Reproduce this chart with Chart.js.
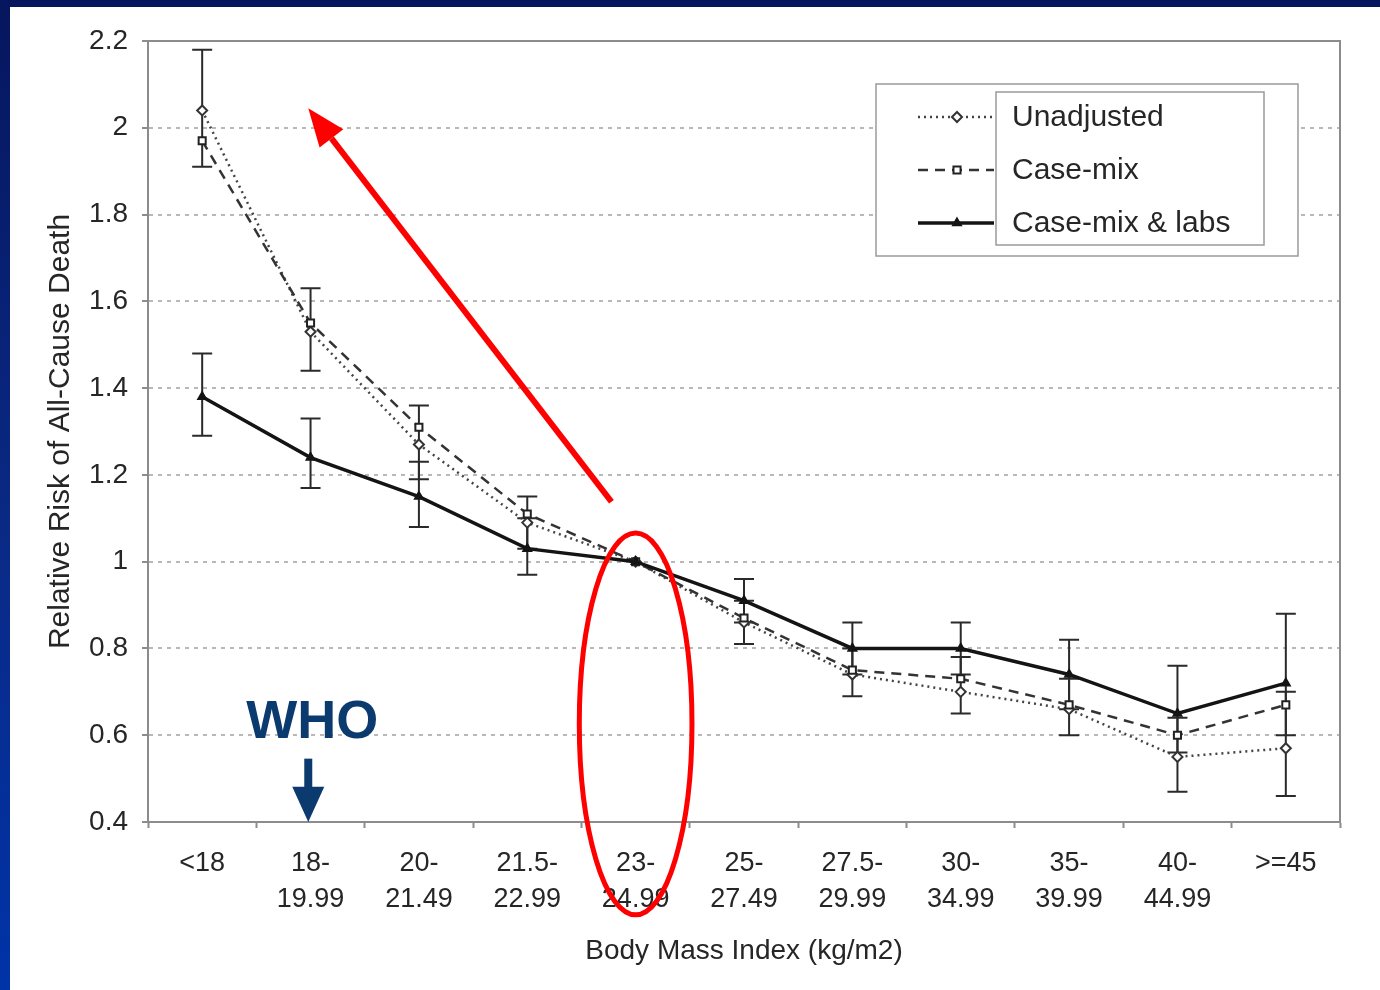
<!DOCTYPE html>
<html>
<head>
<meta charset="utf-8">
<script src="https://cdn.jsdelivr.net/npm/chart.js@4.4.0/dist/chart.umd.min.js"></script>
<style>
  html, body { margin: 0; padding: 0; }
  body {
    width: 1380px; height: 990px; overflow: hidden;
    background: linear-gradient(180deg, #06165e 0%, #0a2a86 55%, #0033a8 100%);
  }
  #panel {
    position: absolute; left: 10px; top: 7px; width: 1370px; height: 983px;
    background: #fff;
  }
</style>
</head>
<body>
<div id="panel"><canvas id="chart" width="1370" height="983"></canvas></div>
<script>
// BMI categories (x axis)
const categories = [
  '<18', ['18-', '19.99'], ['20-', '21.49'], ['21.5-', '22.99'], ['23-', '24.99'],
  ['25-', '27.49'], ['27.5-', '29.99'], ['30-', '34.99'], ['35-', '39.99'],
  ['40-', '44.99'], '>=45'
];

// relative risk per category
const unadjusted = [2.04, 1.53, 1.27, 1.09, 1.0, 0.86, 0.74, 0.70, 0.66, 0.55, 0.57];
const caseMix    = [1.97, 1.55, 1.31, 1.11, 1.0, 0.87, 0.75, 0.73, 0.67, 0.60, 0.67];
const caseMixLabs = [1.38, 1.24, 1.15, 1.03, 1.0, 0.91, 0.80, 0.80, 0.74, 0.65, 0.72];

// 95% CI bars (23-24.99 is the reference group, no bar)
const unadjLow  = [1.91, 1.44, 1.19, 1.03, null, 0.81, 0.69, 0.65, 0.60, 0.47, 0.46];
const unadjHigh = [2.18, 1.63, 1.36, 1.15, null, 0.91, 0.80, 0.78, 0.73, 0.64, 0.70];
const labsLow   = [1.29, 1.17, 1.08, 0.97, null, 0.86, 0.74, 0.74, 0.66, 0.56, 0.60];
const labsHigh  = [1.48, 1.33, 1.23, 1.10, null, 0.96, 0.86, 0.86, 0.82, 0.76, 0.88];

// y axis
const yMin = 0.4, yMax = 2.2, yStep = 0.2;

const FONT = "'Liberation Sans', Arial, sans-serif";
const TEXT = '#262626';
const NAVY = '#0b3a6e';

// error bars, plot border, legend and the slide's annotations
const overlay = {
  id: 'overlay',
  beforeDatasetsDraw(chart) {
    const { ctx, chartArea: a, scales: { x, y } } = chart;
    ctx.save();
    // top and right frame of the plot area
    ctx.strokeStyle = '#8c8c8c';
    ctx.lineWidth = 2;
    ctx.beginPath();
    ctx.moveTo(a.left, a.top);
    ctx.lineTo(a.right, a.top);
    ctx.lineTo(a.right, a.bottom);
    ctx.stroke();

    ctx.strokeStyle = '#2a2a2a';
    ctx.lineWidth = 2;
    const drawBar = (i, lo, hi) => {
      if (lo == null || hi == null) return;
      const px = x.getPixelForValue(i);
      const y1 = y.getPixelForValue(lo), y2 = y.getPixelForValue(hi);
      ctx.beginPath();
      ctx.moveTo(px, y1); ctx.lineTo(px, y2);
      ctx.moveTo(px - 10, y1); ctx.lineTo(px + 10, y1);
      ctx.moveTo(px - 10, y2); ctx.lineTo(px + 10, y2);
      ctx.stroke();
    };
    categories.forEach((c, i) => {
      drawBar(i, unadjLow[i], unadjHigh[i]);
      drawBar(i, labsLow[i], labsHigh[i]);
    });
    ctx.restore();
  },
  afterDraw(chart) {
    const { ctx, scales: { x, y } } = chart;
    ctx.save();

    // legend box (white, covers the grid)
    ctx.fillStyle = '#fff';
    ctx.fillRect(866, 77, 422, 172);
    ctx.strokeStyle = '#9a9a9a';
    ctx.lineWidth = 1.5;
    ctx.strokeRect(866, 77, 422, 172);
    ctx.strokeRect(986, 85, 268, 153);
    chart.data.datasets.forEach((ds, i) => {
      const ly = 110 + i * 53;
      ctx.save();
      ctx.strokeStyle = ds.borderColor;
      ctx.lineWidth = ds.borderWidth;
      ctx.setLineDash(ds.borderDash || []);
      ctx.beginPath(); ctx.moveTo(908, ly); ctx.lineTo(984, ly); ctx.stroke();
      ctx.restore();
      ctx.fillStyle = ds.pointBackgroundColor;
      ctx.strokeStyle = ds.pointBorderColor;
      ctx.lineWidth = ds.pointBorderWidth;
      Chart.helpers.drawPoint(ctx, {
        pointStyle: ds.pointStyle, radius: ds.pointRadius, borderWidth: ds.pointBorderWidth
      }, 947, ly);
      ctx.fillStyle = TEXT;
      ctx.font = '30px ' + FONT;
      ctx.textAlign = 'left';
      ctx.textBaseline = 'middle';
      ctx.fillText(ds.label, 1002, ly + 1);
    });

    // red arrow towards the high-risk end
    const ax0 = x.getPixelForValue(3.777), ay0 = y.getPixelForValue(1.138);
    const ax1 = x.getPixelForValue(0.979), ay1 = y.getPixelForValue(2.045);
    const ang = Math.atan2(ay1 - ay0, ax1 - ax0);
    const headLen = 38, headW = 15;
    const bx = ax1 - headLen * Math.cos(ang), by = ay1 - headLen * Math.sin(ang);
    ctx.strokeStyle = '#ff0000';
    ctx.fillStyle = '#ff0000';
    ctx.lineWidth = 6;
    ctx.beginPath(); ctx.moveTo(ax0, ay0); ctx.lineTo(bx, by); ctx.stroke();
    ctx.beginPath();
    ctx.moveTo(ax1, ay1);
    ctx.lineTo(bx + headW * Math.sin(ang), by - headW * Math.cos(ang));
    ctx.lineTo(bx - headW * Math.sin(ang), by + headW * Math.cos(ang));
    ctx.closePath(); ctx.fill();

    // red ellipse around the reference group
    const ex = x.getPixelForValue(4), erx = x.getPixelForValue(4.52) - ex;
    const eTop = y.getPixelForValue(1.066), eBot = y.getPixelForValue(0.186);
    ctx.lineWidth = 5;
    ctx.beginPath();
    ctx.ellipse(ex, (eTop + eBot) / 2, erx, (eBot - eTop) / 2, 0, 0, Math.PI * 2);
    ctx.stroke();

    // WHO label with down arrow
    ctx.fillStyle = NAVY;
    ctx.font = 'bold 54px ' + FONT;
    ctx.textAlign = 'center';
    ctx.textBaseline = 'middle';
    ctx.fillText('WHO', x.getPixelForValue(1.016), y.getPixelForValue(0.628));
    const wx = x.getPixelForValue(0.979);
    const wTop = y.getPixelForValue(0.546), wBase = y.getPixelForValue(0.481), wTip = y.getPixelForValue(0.4);
    ctx.fillRect(wx - 4, wTop, 8, wBase - wTop + 1);
    ctx.beginPath();
    ctx.moveTo(wx - 16, wBase); ctx.lineTo(wx + 16, wBase); ctx.lineTo(wx, wTip);
    ctx.closePath(); ctx.fill();

    ctx.restore();
  }
};

new Chart(document.getElementById('chart').getContext('2d'), {
  type: 'line',
  data: {
    labels: categories,
    datasets: [
      {
        label: 'Unadjusted',
        data: unadjusted,
        borderColor: '#444',
        borderWidth: 2.5,
        borderDash: [2, 4],
        pointStyle: 'rectRot',
        pointRadius: 5,
        pointBackgroundColor: '#fff',
        pointBorderColor: '#333',
        pointBorderWidth: 2,
        tension: 0,
        order: 3
      },
      {
        label: 'Case-mix',
        data: caseMix,
        borderColor: '#333',
        borderWidth: 2.5,
        borderDash: [10, 7],
        pointStyle: 'rect',
        pointRadius: 5,
        pointBackgroundColor: '#fff',
        pointBorderColor: '#222',
        pointBorderWidth: 2,
        tension: 0,
        order: 2
      },
      {
        label: 'Case-mix & labs',
        data: caseMixLabs,
        borderColor: '#141414',
        borderWidth: 3.5,
        pointStyle: 'triangle',
        pointRadius: 5,
        pointBackgroundColor: '#141414',
        pointBorderColor: '#141414',
        pointBorderWidth: 1.5,
        tension: 0,
        order: 1
      }
    ]
  },
  options: {
    responsive: false,
    animation: false,
    layout: { padding: { left: 0, top: 34, right: 40, bottom: 0 } },
    plugins: {
      legend: { display: false },
      tooltip: { enabled: false }
    },
    scales: {
      x: {
        offset: true,
        afterFit: s => { s.height = 168; },
        grid: {
          offset: true,
          drawOnChartArea: false,
          drawTicks: true,
          tickLength: 6,
          tickColor: '#8c8c8c',
          tickWidth: 2
        },
        border: { display: true, color: '#8c8c8c', width: 2 },
        ticks: {
          color: TEXT,
          padding: 18,
          maxRotation: 0,
          autoSkip: false,
          font: { family: FONT, size: 27, lineHeight: 1.33 }
        },
        title: {
          display: true,
          text: 'Body Mass Index (kg/m2)',
          color: TEXT,
          padding: { top: 0, bottom: 22 },
          font: { family: FONT, size: 28 }
        }
      },
      y: {
        min: yMin,
        max: yMax,
        afterFit: s => { s.width = 138; },
        grid: {
          color: ctx => (ctx.tick && (ctx.tick.value <= yMin + 1e-6 || ctx.tick.value >= yMax - 1e-6)) ? 'rgba(0,0,0,0)' : '#b8b8b8',
          lineWidth: 2,
          tickLength: 6,
          tickColor: '#8c8c8c',
          tickWidth: 2,
          tickBorderDash: []
        },
        border: { display: true, color: '#8c8c8c', width: 2, dash: [4, 5] },
        ticks: {
          stepSize: yStep,
          color: TEXT,
          padding: 14,
          font: { family: FONT, size: 28 },
          callback: v => String(Number(v.toFixed(1)))
        },
        title: {
          display: true,
          text: 'Relative Risk of All-Cause Death',
          color: TEXT,
          padding: { top: 33, bottom: 0 },
          font: { family: FONT, size: 30 }
        }
      }
    }
  },
  plugins: [overlay]
});
</script>
</body>
</html>
